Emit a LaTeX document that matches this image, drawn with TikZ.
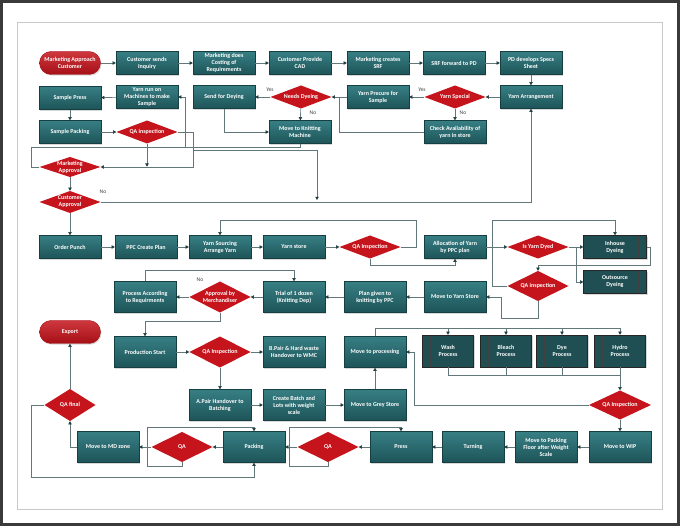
\documentclass[tikz,border=0pt]{standalone}
\usepackage{fontspec}
\setmainfont{Carlito}
\usetikzlibrary{arrows.meta,shadows,calc}
\definecolor{tealA}{HTML}{377F84}
\definecolor{tealB}{HTML}{1D5458}
\definecolor{tealE}{HTML}{163F42}
\definecolor{tealD}{HTML}{1F4F52}
\definecolor{redA}{HTML}{C5141C}
\definecolor{redB}{HTML}{A50F15}
\definecolor{conn}{HTML}{62777A}
\definecolor{tipC}{HTML}{1E3C3F}
\definecolor{frameC}{HTML}{3A3A3A}
\definecolor{pageC}{HTML}{C9C9C9}
\tikzset{
  base/.style={font=\fontsize{6}{7}\selectfont\bfseries, text=white, align=center, inner sep=0pt},
  shd/.style={drop shadow={opacity=0.3,shadow xshift=1pt,shadow yshift=-1.2pt}},
  box/.style={base, rectangle, draw=tealE, line width=0.4pt, top color=tealA, bottom color=tealB, minimum width=62pt, minimum height=23pt, shd},
  tbox/.style={box, minimum height=31pt},
  pbox/.style={base, rectangle, draw=black!85, line width=0.4pt, fill=tealD, minimum width=63pt, minimum height=23pt, shd,
    path picture={\draw[black!75,line width=0.4pt]
      ([xshift=8pt]path picture bounding box.north west) -- ([xshift=8pt]path picture bounding box.south west)
      ([xshift=-8pt]path picture bounding box.north east) -- ([xshift=-8pt]path picture bounding box.south east);}},
  dia/.style={base, rectangle, minimum width=61pt, minimum height=23pt,
    path picture={\fill[redA] (path picture bounding box.west) -- (path picture bounding box.north) -- (path picture bounding box.east) -- (path picture bounding box.south) -- cycle;}},
  pill/.style={base, rectangle, rounded corners=11.5pt, draw=redB, line width=0.4pt, top color=redA!85!white, bottom color=redB, minimum width=61pt, minimum height=23pt, shd},
  ln/.style={draw=conn, line width=0.6pt},
  arr/.style={ln, -{Triangle[length=3.2pt,width=3.4pt,color=tipC]}},
  lbl/.style={font=\fontsize{5.6}{6.5}\selectfont, text=black!75, inner sep=0pt}
}
\begin{document}
\begin{tikzpicture}[x=1pt,y=-1pt]
\useasboundingbox (0,0) rectangle (680,526);
\fill[white] (0,0) rectangle (680,526);
\draw[frameC, line width=3pt] (1.5,1.5) rectangle (678.5,524.5);
\draw[pageC, line width=0.8pt] (17,22) rectangle (662,509);

% row 1
\node[pill] (mac) at (70,63) {Marketing Approach\\Customer};
\node[box] (csi) at (147,63) {Customer sends\\Inquiry};
\node[box] (cost) at (224,63) {Marketing does\\Costing of\\Requirements};
\node[box] (cad) at (300,63) {Customer Provide\\CAD};
\node[box] (srf) at (378,63) {Marketing creates\\SRF};
\node[box] (srff) at (454,63) {SRF forward to PD};
\node[box] (pd) at (531,63) {PD develops Specs\\Sheet};
% row 2
\node[box] (spress) at (70,98) {Sample Press};
\node[box] (yrun) at (147,97) {Yarn run on\\Machines to make\\Sample};
\node[box] (sfd) at (224,97) {Send for Deying};
\node[dia] (nd) at (301,97) {Needs Dyeing};
\node[box] (ypre) at (378,97) {Yarn Precure for\\Sample};
\node[dia] (ysp) at (455,97) {Yarn Special};
\node[box] (yarr) at (531,97) {Yarn Arrangement};
% row 3
\node[box] (spack) at (70,132) {Sample Packing};
\node[dia] (qa1) at (147,132) {QA inspection};
\node[box] (knit) at (300,132) {Move to Knitting\\Machine};
\node[box] (chk) at (455,132) {Check Availability of\\yarn in store};
% approvals
\node[dia, minimum height=20pt] (mapp) at (70,167) {Marketing\\Approval};
\node[dia, minimum height=22pt] (capp) at (70,202) {Customer\\Approval};
% row 5
\node[box] (op) at (70,247) {Order Punch};
\node[box] (ppc) at (146,247) {PPC Create Plan};
\node[box] (ysrc) at (220,247) {Yarn Sourcing\\Arrange Yarn};
\node[box] (ystore) at (294,247) {Yarn store};
\node[dia] (qa2) at (370,247) {QA Inspection};
\node[box] (alloc) at (455,247) {Allocation of Yarn\\by PPC plan};
\node[dia] (iyd) at (538,247) {Is Yarn Dyed};
\node[pbox] (inh) at (615,247) {Inhouse\\Dyeing};
\node[pbox] (outs) at (615,282) {Outsource\\Dyeing};
\node[dia, minimum height=30pt] (qa3) at (538,286) {QA inspection};
% row 6
\node[tbox] (pacc) at (145,297) {Process According\\to Requirments};
\node[dia, minimum height=31pt] (appm) at (220,297) {Approval by\\Merchandiser};
\node[tbox] (trial) at (294,297) {Trial of 1 dozen\\(Knitting Dep)};
\node[tbox] (plan) at (375,297) {Plan given to\\knitting by PPC};
\node[tbox] (myst) at (455,297) {Move to Yarn Store};
% row 7
\node[pill] (exp) at (70,332) {Export};
\node[tbox] (prod) at (145,352) {Production Start};
\node[dia, minimum height=31pt] (qa4) at (220,352) {QA Inspection};
\node[tbox] (bpair) at (294,352) {B.Pair \& Hard waste\\Handover to WMC};
\node[tbox] (mproc) at (375,352) {Move to processing};
\node[pbox, minimum width=51pt, minimum height=32pt] (wash) at (448,351) {Wash\\Process};
\node[pbox, minimum width=51pt, minimum height=32pt] (bleach) at (506,351) {Bleach\\Process};
\node[pbox, minimum width=51pt, minimum height=32pt] (dye) at (562,351) {Dye\\Process};
\node[pbox, minimum width=51pt, minimum height=32pt] (hydro) at (620,351) {Hydro\\Process};
% row 8
\node[dia, minimum width=51pt, minimum height=32pt] (qaf) at (70,405) {QA final};
\node[tbox] (apair) at (220,405) {A.Pair Handover to\\Batching};
\node[tbox] (batch) at (294,405) {Create Batch and\\Lots with weight\\scale};
\node[tbox] (grey) at (375,405) {Move to Grey Store};
\node[dia, minimum width=62pt, minimum height=29pt] (qa5) at (620,405) {QA Inspection};
% row 9
\node[tbox] (mdz) at (108,447) {Move to MD zone};
\node[dia, minimum height=30pt] (qaM) at (182,447) {QA};
\node[tbox] (pack) at (254,447) {Packing};
\node[dia, minimum height=30pt] (qaP) at (328,447) {QA};
\node[tbox] (press) at (401,447) {Press};
\node[tbox] (turn) at (473,447) {Turning};
\node[tbox] (mpf) at (546,447) {Move to Packing\\Floor after Weight\\Scale};
\node[tbox] (wip) at (620,447) {Move to WIP};

% ---- connectors row 1-3
\draw[arr] (mac) -- (csi);
\draw[arr] (csi) -- (cost);
\draw[arr] (cost) -- (cad);
\draw[arr] (cad) -- (srf);
\draw[arr] (srf) -- (srff);
\draw[arr] (srff) -- (pd);
\draw[arr] (pd) -- (yarr);
\draw[arr] (yarr) -- (ysp);
\draw[arr] (ysp) -- (ypre);
\draw[arr] (ysp) -- (chk);
\draw[arr] (ypre) -- (nd);
\draw[ln] (chk.west) -| ($(ypre.west)!0.5!(nd.east)$);
\draw[arr] (nd) -- (sfd);
\draw[arr] (nd) -- (knit);
\draw[arr] (sfd.south) |- (knit.west);
\node[lbl] at (270,90) {Yes};
\node[lbl] at (313,113) {No};
\node[lbl] at (422,90) {Yes};
\node[lbl] at (463,113) {No};

% sample loop
\draw[arr] (yrun) -- (spress);
\draw[arr] (spress) -- (spack);
\draw[arr] (spack) -- (qa1);
\coordinate (kj) at (185,147);
\draw[arr] (knit.south) -- ++(0,4) -| ($(yrun.east)+(7,0)$) -- (yrun.east);
\draw[ln] (mapp.west) -- ++(-8,0) |- (kj);
\draw[arr] (qa1.south) -- ++(0,23);
\draw[arr] (qa1.east) -- ++(16,0) |- (mapp.east);
\coordinate (qj) at (193,150);
\coordinate (cj) at (317,200);
\draw[arr] (qj) -| (cj);
\draw[arr] (mapp) -- (capp);
\draw[arr] (capp) -- (op);
\draw[arr] (capp.east) -| (yarr.south);
\node[lbl] at (103,192) {No};

% row 5
\draw[arr] (op) -- (ppc);
\draw[arr] (ppc) -- (ysrc);
\draw[arr] (ysrc) -- (ystore);
\draw[arr] (ystore) -- (qa2);
\draw[arr] (qa2.east) -- ++(16,0) |- ($(ysrc.north)+(0,-15)$) -- (ysrc.north);
\draw[arr] (qa2.south) -- ++(0,7) -| (alloc.south);
\draw[arr] (alloc) -- (iyd);
\draw[arr] (qa3.west) -- ++(-15,0) |- ($(inh.north)+(0,-15)$) -- (inh.north);
\draw[arr] (iyd) -- (inh);
\draw[arr] ($(iyd.east)!0.55!(inh.west)$) |- (outs.west);
\draw[arr] (inh.east) -- ++(4,0) |- ($(qa3.north)+(0,-5)$) -- (qa3.north);
\draw[arr] (qa3.south) -- ++(0,17) -| ($(myst.east)+(15,0)$) -- (myst.east);

% row 6
\draw[arr] (myst) -- (plan);
\draw[arr] (plan) -- (trial);
\draw[arr] (trial) -- (appm);
\draw[arr] (appm) -- (pacc);
\node[lbl] at (200,280) {No};
\draw[arr] (pacc.north) -- ++(0,-11) -| (trial.north);
\draw[arr] (appm.south) -- ++(0,9) -| (prod.north);

% row 7-8
\draw[arr] (prod) -- (qa4);
\draw[arr] (qa4) -- (bpair);
\draw[arr] (qa4) -- (apair);
\draw[arr] (apair) -- (batch);
\draw[arr] (batch) -- (grey);
\draw[arr] (grey) -- (mproc);
\foreach \p in {wash,bleach,dye,hydro}
  \draw[arr] (mproc.north) -- ++(0,-8) -| (\p.north);
\foreach \p in {wash,bleach,dye}
  \draw[ln] (\p.south) -- ++(0,8) -| (hydro.south);
\draw[arr] (hydro) -- (qa5);
\draw[arr] (qa5.west) -| ($(mproc.east)+(8,0)$) -- (mproc.east);
\draw[arr] (qa5) -- (wip);

% row 9
\draw[arr] (wip) -- (mpf);
\draw[arr] (mpf) -- (turn);
\draw[arr] (turn) -- (press);
\draw[arr] (press) -- (qaP);
\draw[arr] (qaP) -- (pack);
\draw[arr] (qaP.south) -- ++(0,4) -| ($(qaP.west)+(-8,0)$) |- ($(press.north)+(0,-4)$) -- (press.north);
\draw[arr] (pack) -- (qaM);
\draw[arr] (qaM) -- (mdz);
\draw[arr] (qaM.south) -- ++(0,4) -| ($(qaM.west)+(-4,0)$) |- ($(pack.north)+(0,-4)$) -- (pack.north);
\draw[arr] (mdz.west) -| (qaf.south);
\draw[arr] (qaf) -- (exp);
\draw[arr] (qaf.west) -- ++(-13,0) |- ($(pack.south)+(0,15)$) -- (pack.south);
\end{tikzpicture}
\end{document}
